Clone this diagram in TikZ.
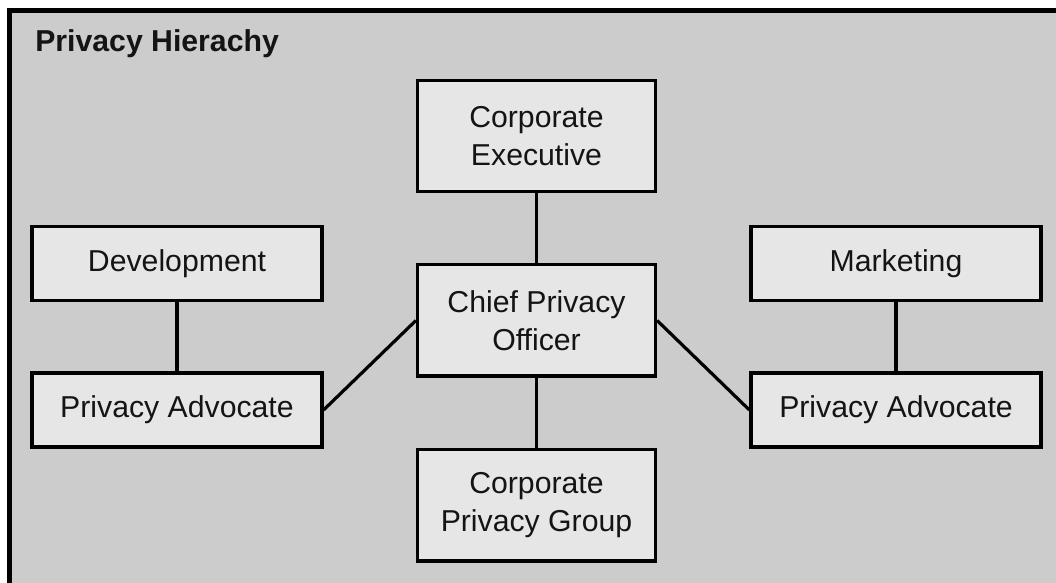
\documentclass[tikz,border=0pt]{standalone}
\usepackage{fontspec}
\setmainfont{Liberation Sans}
\definecolor{hierFrame}{RGB}{204,204,204}
\definecolor{hierBox}{RGB}{230,230,230}
\definecolor{hierLine}{RGB}{0,0,0}
\definecolor{hierText}{RGB}{20,20,20}

\begin{document}
\begin{tikzpicture}[x=1cm,y=1cm,
      heading/.style={font=\fontsize{21.5}{27}\selectfont\bfseries,
        text=hierText, anchor=base west, inner sep=0pt},
      unit/.style={draw=hierLine, fill=hierBox, line width=.08cm,
        font=\fontsize{21.5}{27}\selectfont, text=hierText,
        align=center, inner sep=0pt},
      wide/.style={unit, minimum width=5.95cm, minimum height=2.78cm},
      flat/.style={unit, minimum width=7.25cm, minimum height=1.85cm},
      link/.style={draw=hierLine, line width=.08cm}]
      \clip (0,0) rectangle (26.4,14.575);
      \fill[white] (0,0) rectangle (26.4,14.575);
      \fill[hierFrame] (.24,-1) rectangle (27,14.31);
      \draw[hierLine, line width=.11cm] (.24,-1) -- (.24,14.31) -- (27,14.31);

      \node[heading] (title) at (.875,13.275) {Privacy Hierachy};

      \node[wide] (exec) at (13.4125,11.175) {Corporate\\Executive};
      \node[wide] (chief) at (13.4125,6.5625) {Chief Privacy\\Officer};
      \node[wide] (group) at (13.4125,1.9375) {Corporate\\Privacy Group};

      \node[flat] (dev) at (4.425,7.9875) {Development};
      \node[flat] (advl) at (4.425,4.325) {Privacy Advocate};
      \node[flat] (mkt) at (22.4,7.9875) {Marketing};
      \node[flat] (advr) at (22.4,4.325) {Privacy Advocate};

      \draw[link] (exec) -- (chief);
      \draw[link] (chief) -- (group);
      \draw[link] (dev) -- (advl);
      \draw[link] (mkt) -- (advr);
      \draw[link] (chief.west) -- (advl.east);
      \draw[link] (chief.east) -- (advr.west);
    \end{tikzpicture}
\end{document}
